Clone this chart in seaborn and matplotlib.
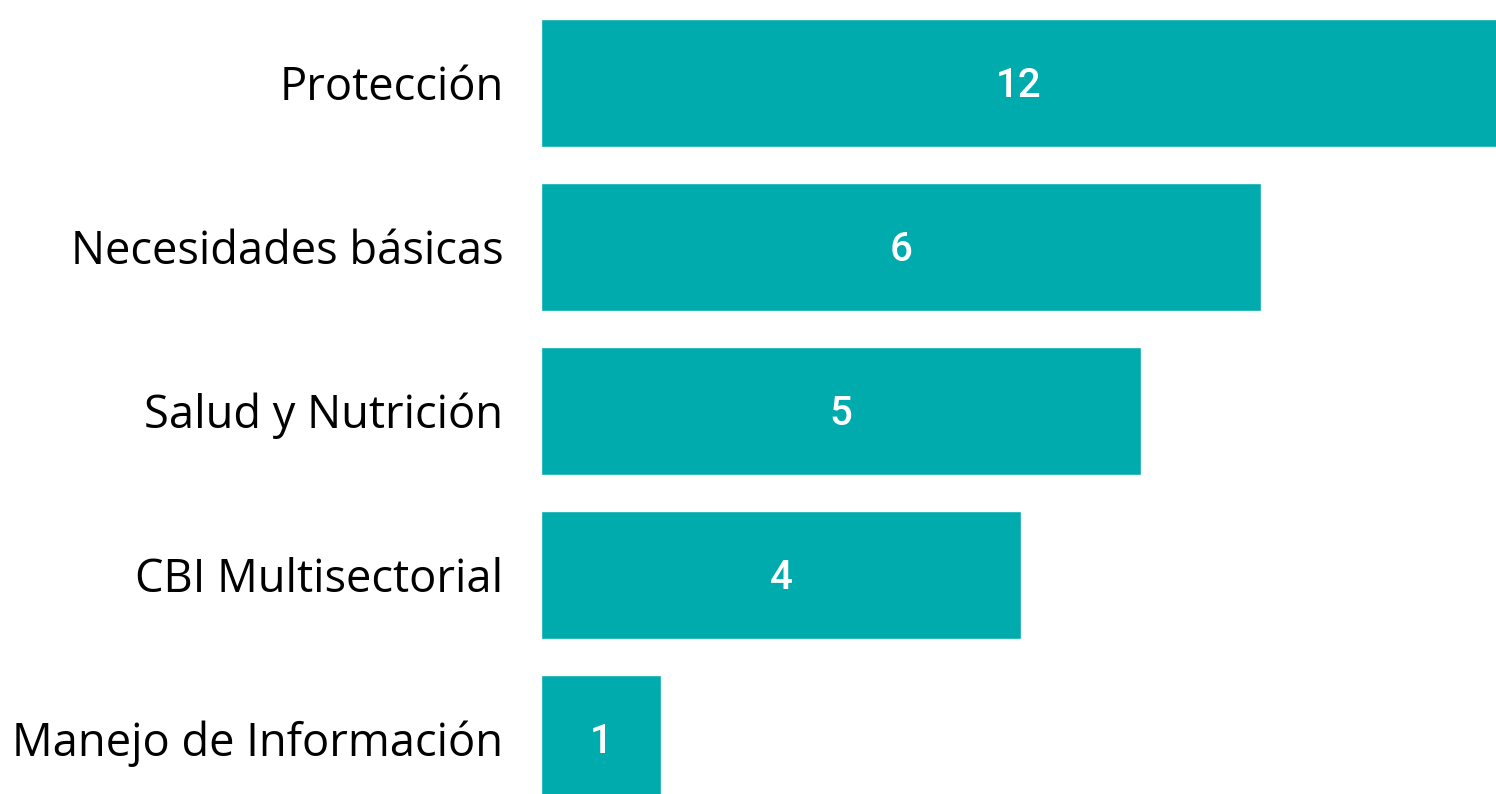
import matplotlib
matplotlib.use("Agg")
import matplotlib.pyplot as plt
import matplotlib.transforms as mtransforms
import seaborn as sns
import pandas as pd

categories = ["Protección", "Necesidades básicas", "Salud y Nutrición", "CBI Multisectorial", "Manejo de Información"]
values = [12, 6, 5, 4, 1]
bar_color = "#00ABAE"

df = pd.DataFrame({"categoria": categories, "valor": values})

sns.set_theme(style="white")
plt.rcParams["font.family"] = ["Open Sans", "DejaVu Sans"]

fig = plt.figure(figsize=(14.96, 7.94), dpi=100)
ax = fig.add_axes([541 / 1496, 0, 955 / 1496, 1])
sns.barplot(data=df, x="valor", y="categoria", color=bar_color, saturation=1,
            width=0.775, ax=ax, orient="h")

xmax = 955 / 120
ax.set_xlim(0, xmax)
ax.set_ylim(4.335, -0.506)
for s in ax.spines.values():
    s.set_visible(False)
ax.set_xticks([])
ax.set_xlabel("")
ax.set_ylabel("")
ax.tick_params(axis="y", length=0, pad=27, labelsize=32.6, labelcolor="#000000")
offset = mtransforms.ScaledTranslation(0, -5 / 100, fig.dpi_scale_trans)
for lbl in ax.get_yticklabels():
    lbl.set_verticalalignment("center")
    lbl.set_transform(lbl.get_transform() + offset)

for i, v in enumerate(values):
    xc = min(v, xmax) / 2
    ax.text(xc, i + 0.02, str(v), ha="center", va="center", color="white",
            fontsize=29, fontweight="medium", family=["Roboto", "DejaVu Sans"])

fig.savefig("out.png", dpi=100)
